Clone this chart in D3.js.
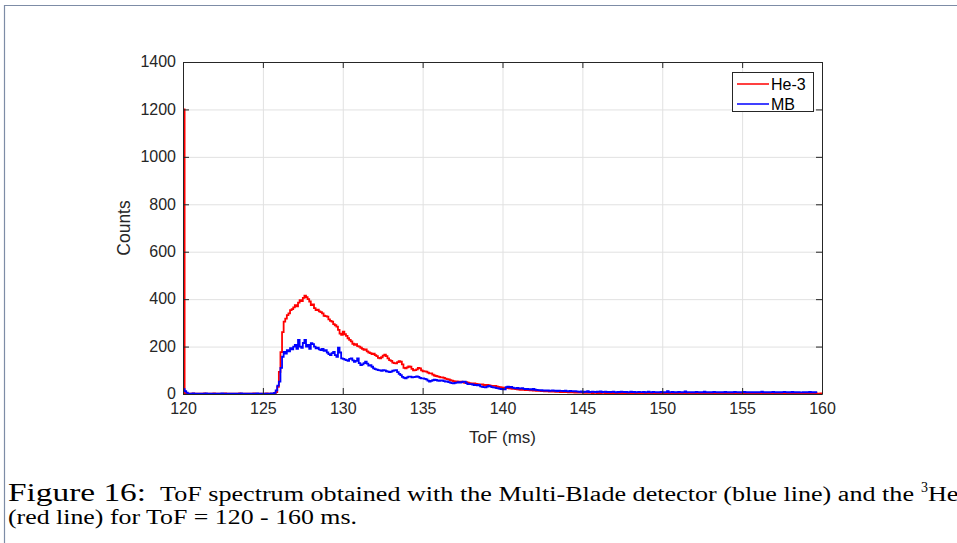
<!DOCTYPE html>
<html>
<head>
<meta charset="utf-8">
<script src="https://cdn.jsdelivr.net/npm/d3@7/dist/d3.min.js"></script>
<style>
  html, body { margin: 0; padding: 0; background: #fff; }
  svg { display: block; }
</style>
</head>
<body>
<svg id="chart" width="957" height="543"></svg>
<script>
// ---------------- data ----------------
const binStart = 120;     // ms, left edge of first bin
const binWidth = 0.1;     // ms
const xTickValues = [120, 125, 130, 135, 140, 145, 150, 155, 160];
const yTickValues = [0, 200, 400, 600, 800, 1000, 1200, 1400];
const seriesNames = ["He-3", "MB"];

// He-3 tube counts per 0.1 ms bin (120.0 ... 159.9 ms)
const heCounts = [
  1200,
  3,2,2,1,2,3,2,1,2,2, 1,2,3,2,2,1,2,2,3,2, 2,1,2,2,1,3,2,2,1,2,
  2,2,1,2,3,2,1,2,2,2, 1,2,2,3,2,1,2,2,1,2, 2,3,2,1,2,2,3,
  8,30,
  93,177,261,305,318,333,340,354,358,365,
  375,370,385,396,392,405,415,408,400,390,
  375,378,362,354,356,348,345,340,330,328,
  326,315,308,305,295,290,284,270,255,249,
  263,252,245,235,228,222,212,207,210,202,
  200,195,190,186,188,180,175,172,168,170,
  164,160,152,150,155,162,166,160,150,143,
  140,132,130,129,134,138,136,125,110,108,
  112,116,115,106,100,101,104,110,108,100,
  96,95,94,90,87,87,82,78,76,74,
  72,70,70,68,65,63,62,58,56,54,
  52,53,50,52,52,49,47,50,48,46,
  45,44,45,43,42,40,41,41,38,37,
  38,37,35,34,34,34,32,30,29,28,
  27,26,25,25,24,23,22,22,21,20,
  19,18,19,17,16,17,16,15,15,14,
  14,13,14,13,12,12,11,12,11,10,
  10,11,10,9,10,9,8,9,8,8,
  8,7,8,7,7,6,7,6,6,6,
  6,5,6,5,5,6,4,5,5,4,
  5,4,5,6,4,5,4,4,5,4,
  4,5,4,3,4,5,4,4,3,4,
  4,3,4,4,5,3,4,3,4,4,
  3,4,3,4,3,4,4,3,3,4,
  3,4,3,3,4,3,2,3,4,3,
  3,3,2,4,3,3,2,3,3,4,
  3,2,3,3,2,3,4,2,3,3,
  2,3,3,2,3,2,3,4,2,3,
  3,2,2,3,3,2,3,2,3,2,
  2,3,2,3,2,2,3,2,3,2,
  3,2,2,3,2,3,2,2,3,2,
  2,2,3,2,2,3,2,2,2,3,
  2,3,2,2,3,2,2,3,2,2,
  2,2,3,2,2,2,3,2,2,3
];

// Multi-Blade counts per 0.1 ms bin (120.0 ... 159.9 ms)
const mbCounts = [
  20,12,6,
  2,1,2,3,1,2,2, 1,2,2,1,3,2,1,2,2,1, 2,2,1,2,3,1,2,2,1,2,
  2,1,2,2,1,2,3,2,1,2, 2,1,2,1,2,2,3,1,2,2, 1,2,2,1,2,3,2,
  5,15,35,52,110,157,178,170,185,180,
  193,188,200,207,190,228,200,195,215,228,
  200,207,190,214,210,200,193,195,188,185,
  190,182,185,175,168,164,172,178,164,157,
  195,175,150,148,145,143,140,148,150,142,
  136,140,150,130,122,125,130,136,128,120,
  122,115,108,105,103,101,100,98,101,100,
  96,94,92,94,98,100,101,92,85,80,
  72,68,66,70,73,73,70,71,72,74,
  72,68,66,66,64,62,56,52,55,58,
  60,59,57,55,57,57,54,52,53,50,
  48,46,45,47,48,50,48,50,52,52,
  46,42,42,42,40,38,38,36,38,32,
  30,29,28,31,34,32,29,28,27,25,
  24,22,21,20,20,29,31,28,30,27,
  25,24,26,23,24,25,22,21,22,20,
  20,19,21,18,17,16,15,16,14,15,
  14,15,13,14,15,13,14,12,14,13,
  13,12,14,12,11,13,12,11,12,11,
  10,9,11,8,10,9,12,8,9,10,
  9,8,10,9,11,8,9,10,8,9,
  8,9,10,8,7,9,8,10,9,8,
  9,7,8,10,8,9,7,8,9,8,
  8,9,7,8,10,8,7,9,8,7,
  8,7,9,8,7,8,12,7,8,9,
  7,8,7,9,8,7,8,11,7,8,
  8,7,8,7,9,8,7,8,7,10,
  7,8,7,8,7,9,8,7,8,7,
  8,7,9,7,8,7,8,7,9,8,
  7,8,7,8,9,7,8,7,8,7,
  8,7,8,7,8,10,7,8,7,8,
  7,8,9,7,8,7,8,7,8,9,
  8,7,8,7,9,7,8,7,8,7,
  7,8,7,8,7,9,7,8,7,8
];

// ---------------- layout ----------------
const svg = d3.select("#chart");
const W = 957, H = 543;
const plot = { left: 183, right: 822, top: 62, bottom: 394 };
const axisColor = "#262626";
const gridColor = "#e1e1e1";
const sans = "'Liberation Sans', Arial, Helvetica, sans-serif";
const serif = "'Liberation Serif', 'Times New Roman', serif";

// page frame (document border)
svg.append("line").attr("x1", 4.5).attr("x2", 4.5).attr("y1", 5).attr("y2", H)
  .attr("stroke", "#7d8ca6").attr("stroke-width", 1.2);
svg.append("line").attr("x1", 4).attr("x2", W).attr("y1", 5.5).attr("y2", 5.5)
  .attr("stroke", "#7d8ca6").attr("stroke-width", 1.2);

const x = d3.scaleLinear().domain([120, 160]).range([plot.left, plot.right]);
const y = d3.scaleLinear().domain([0, 1400]).range([plot.bottom, plot.top]);
const pw = plot.right - plot.left, ph = plot.bottom - plot.top;

// grid
const g = svg.append("g");
g.append("g").attr("transform", `translate(0,${plot.bottom})`)
  .call(d3.axisBottom(x).tickValues(xTickValues).tickSize(-ph).tickFormat(""))
  .call(s => s.select(".domain").remove())
  .call(s => s.selectAll("line").attr("stroke", gridColor).attr("stroke-width", 1));
g.append("g").attr("transform", `translate(${plot.left},0)`)
  .call(d3.axisLeft(y).tickValues(yTickValues).tickSize(-pw).tickFormat(""))
  .call(s => s.select(".domain").remove())
  .call(s => s.selectAll("line").attr("stroke", gridColor).attr("stroke-width", 1));

// series
function toPoints(arr) {
  const pts = arr.map((v, i) => [binStart + i * binWidth, v]);
  pts.push([binStart + arr.length * binWidth, arr[arr.length - 1]]);
  return pts;
}
const line = d3.line().x(d => x(d[0])).y(d => y(d[1])).curve(d3.curveStepAfter);
const colors = ["#ff0000", "#0000ff"];
svg.append("clipPath").attr("id", "clip").append("rect")
  .attr("x", plot.left).attr("y", plot.top - 2).attr("width", pw).attr("height", ph + 2);
[heCounts, mbCounts].forEach((arr, k) => {
  svg.append("path").datum(toPoints(arr))
    .attr("d", line).attr("fill", "none")
    .attr("stroke", colors[k]).attr("stroke-width", 1.8)
    .attr("stroke-linejoin", "miter")
    .attr("clip-path", "url(#clip)");
});

// axes (box with inward ticks)
function styleAxis(s) {
  s.select(".domain").attr("stroke", axisColor);
  s.selectAll(".tick line").attr("stroke", axisColor);
  s.selectAll(".tick text").attr("fill", axisColor)
    .style("font-family", sans).style("font-size", "16px");
}
svg.append("g").attr("transform", `translate(0,${plot.bottom})`)
  .call(d3.axisBottom(x).tickValues(xTickValues).tickSizeInner(-6).tickSizeOuter(0).tickPadding(9).tickFormat(d3.format("d")))
  .call(styleAxis);
svg.append("g").attr("transform", `translate(${plot.left},0)`)
  .call(d3.axisLeft(y).tickValues(yTickValues).tickSizeInner(-6).tickSizeOuter(0).tickPadding(7).tickFormat(d3.format("d")))
  .call(styleAxis)
  .call(s => s.selectAll(".tick text").attr("dy", "0.3em"));
svg.append("g").attr("transform", `translate(0,${plot.top})`)
  .call(d3.axisTop(x).tickValues(xTickValues).tickSizeInner(-6).tickSizeOuter(0).tickFormat(""))
  .call(styleAxis);
svg.append("g").attr("transform", `translate(${plot.right},0)`)
  .call(d3.axisRight(y).tickValues(yTickValues).tickSizeInner(-6).tickSizeOuter(0).tickFormat(""))
  .call(styleAxis);

// axis labels
svg.append("text").attr("x", (plot.left + plot.right) / 2).attr("y", 443)
  .attr("text-anchor", "middle").attr("fill", axisColor)
  .style("font-family", sans).style("font-size", "17px").text("ToF (ms)");
svg.append("text").attr("transform", `translate(130,${(plot.top + plot.bottom) / 2}) rotate(-90)`)
  .attr("text-anchor", "middle").attr("fill", axisColor)
  .style("font-family", sans).style("font-size", "17.5px").text("Counts");

// legend
const lg = svg.append("g");
lg.append("rect").attr("x", 732.5).attr("y", 72.5).attr("width", 81).attr("height", 39)
  .attr("fill", "#fff").attr("stroke", axisColor).attr("stroke-width", 1);
seriesNames.forEach((name, k) => {
  const yy = 84 + k * 20;
  lg.append("line").attr("x1", 737).attr("x2", 769).attr("y1", yy).attr("y2", yy)
    .attr("stroke", colors[k]).attr("stroke-width", 1.5);
  lg.append("text").attr("x", 771).attr("y", yy + 5.5).attr("fill", "#000")
    .style("font-family", sans).style("font-size", "16px").text(name);
});

// caption
const cap = svg.append("g").style("font-family", serif).attr("fill", "#000");
cap.append("text").attr("x", 8).attr("y", 501).style("font-size", "25px")
  .attr("textLength", 138).attr("lengthAdjust", "spacingAndGlyphs").text("Figure 16:");
const main = cap.append("text").attr("x", 160).attr("y", 501).style("font-size", "20px")
  .text("ToF spectrum obtained with the Multi-Blade detector (blue line) and the");
const natural = main.node().getComputedTextLength();
const targetW = 754;
const stretch = targetW / natural;
main.attr("textLength", targetW).attr("lengthAdjust", "spacingAndGlyphs");
cap.append("text").attr("x", 921).attr("y", 492).style("font-size", "14px").text("3");
const he = cap.append("text").attr("x", 928).attr("y", 501).style("font-size", "20px").text("He-tube");
he.attr("textLength", he.node().getComputedTextLength() * stretch).attr("lengthAdjust", "spacingAndGlyphs");
cap.append("text").attr("x", 8).attr("y", 524).style("font-size", "20px")
  .attr("textLength", 349).attr("lengthAdjust", "spacingAndGlyphs")
  .text("(red line) for ToF = 120 - 160 ms.");
</script>
</body>
</html>
